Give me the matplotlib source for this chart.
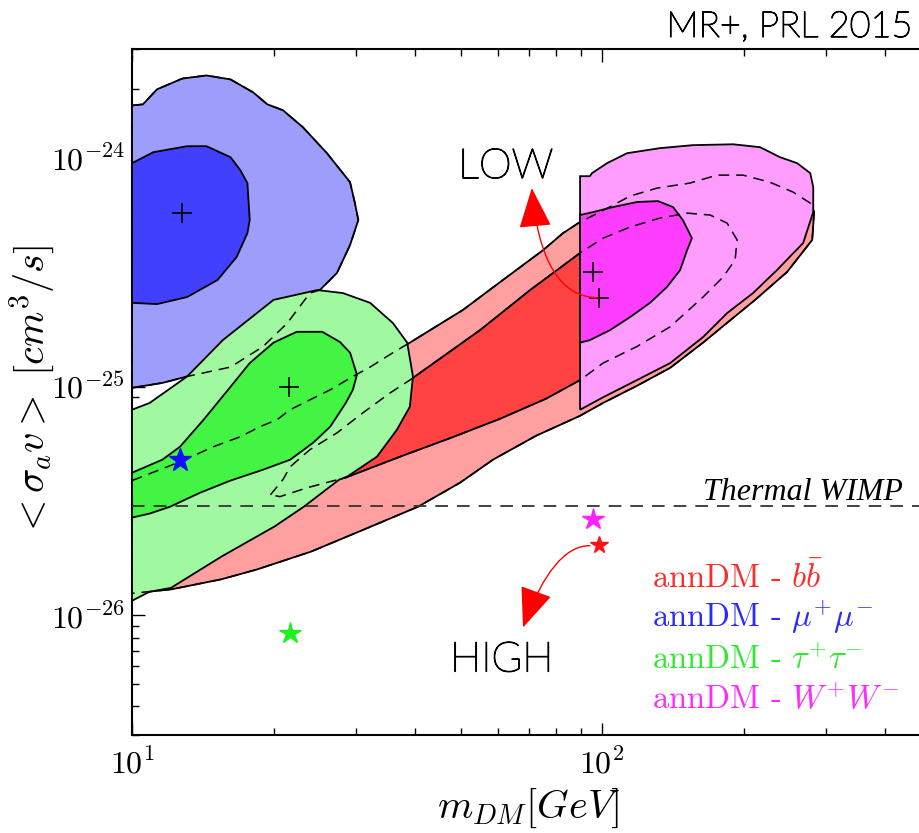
import matplotlib
matplotlib.use("Agg")
import numpy as np
import matplotlib.pyplot as plt
import matplotlib.patheffects as pe
from matplotlib.ticker import FuncFormatter, NullFormatter, FixedLocator, LogLocator

plt.rcParams["mathtext.fontset"] = "cm"

UNIT = 1e-26  # cross sections below are in units of 1e-26 cm^3/s

# contour outlines (mass in GeV, <sigma v> in 1e-26 cm^3/s)
red_outer_m = [10, 12.65, 14.9, 17.0, 18.7, 20.35, 21.7, 23.9, 26.4, 29.5,
               32.1, 35.9, 39.0, 50.6, 61.5, 74.9, 82.6, 89.8, 99.0, 114.8,
               131, 153.8, 175.7, 199.5, 227.6, 254.8, 277.3, 282.6, 280, 247.6,
               211.7, 185.4, 164, 139.6, 118.6, 100.5, 89.8, 72.4, 58.6, 49.9,
               40.6, 31.2, 24.0, 18.45, 15.5, 12.1, 10.4, 10]
red_outer_sv = [3.89, 4.7, 5.47, 6.05, 6.69, 7.18, 7.94, 8.77, 9.7, 11.1,
                12.2, 14.1, 15.6, 21.7, 29.3, 39.6, 47.0, 52.6, 58.1, 68.3,
                74.0, 77.8, 84.3, 84.3, 78.5, 71.1, 63.6, 58.1, 43.9, 31.8,
                24.0, 19.2, 15.6, 12.1, 10.1, 8.5, 7.47, 6.11, 4.8, 3.81,
                2.99, 2.38, 1.90, 1.59, 1.44, 1.30, 1.26, 1.25]

red_inner_m = [19.7, 20.95, 21.7, 23.9, 27.3, 31.0, 35.4, 39.0, 55.0, 70.3,
               89.8, 100.5, 114.8, 132.8, 151.7, 169.8, 184.5, 193.8, 191.9, 180.9,
               164, 139.6, 118.6, 100.5, 89.8, 76.0, 60.7, 48.4, 37.2, 28.5,
               26.4, 23.6, 20.65]
red_inner_sv = [3.37, 3.93, 4.47, 5.31, 6.29, 7.7, 9.4, 10.7, 17.7, 26.5,
                38.5, 44.7, 50.0, 54.7, 57.5, 56.4, 52.0, 43.9, 35.9, 30.2,
                24.7, 18.3, 15.0, 12.7, 10.7, 8.87, 7.25, 6.05, 4.95, 4.01,
                3.85, 3.62, 3.31]

blue_outer_m = [10, 10.55, 11.3, 12.8, 14.4, 16.2, 18.1, 19.4, 20.95, 23.1,
                26.0, 29.1, 29.8, 30.3, 29.1, 27.3, 25.1, 23.9, 21.4, 19.0,
                16.2, 13.1, 11.6, 10]
blue_outer_sv = [170, 172, 200, 223, 230, 221, 194, 172, 162, 136.5,
                 105, 78.5, 63.6, 53.6, 41.7, 31.5, 26.5, 25.7, 19.0, 15.0,
                 12.2, 11.1, 10.4, 9.9]

blue_inner_m = [10, 11.1, 13.1, 14.4, 16.2, 17.0, 17.6, 17.8, 17.6, 16.7,
                15.2, 13.1, 11.3, 10]
blue_inner_sv = [95.1, 106.2, 112.8, 112.8, 101, 88.6, 77.8, 53.6, 47.0, 37.0,
                 29.3, 24.7, 23.0, 23.3]

green_outer_m = [10, 10.9, 13.1, 15.6, 20.0, 24.8, 28.1, 32.1, 35.9, 38.5,
                 39.6, 39.0, 36.6, 33.2, 28.7, 27.6, 23.2, 20.1, 15.5, 12.1,
                 10.9, 10]
green_outer_sv = [7.94, 8.5, 11.1, 16.0, 24.0, 26.5, 25.7, 23.3, 19.0, 15.6,
                  11.1, 8.18, 6.49, 4.95, 4.05, 3.93, 2.99, 2.45, 1.81, 1.32,
                  1.27, 1.16]

green_inner_m = [10, 11.6, 12.65, 14.2, 16.2, 17.8, 20.0, 22.4, 25.4, 27.7,
                 29.1, 30.1, 29.5, 28.5, 26.4, 24.3, 21.7, 19.0, 16.2, 13.95,
                 12.05, 10.9, 10]
green_inner_sv = [4.21, 4.8, 5.47, 7.18, 10, 12.7, 15.6, 17.4, 17.4, 15.7,
                  14.1, 11.3, 9.7, 8.5, 6.69, 5.7, 4.8, 4.34, 3.89, 3.44,
                  2.99, 2.79, 2.68]

mag_outer_m = [89.8, 94.2, 95.2, 102.5, 113, 132.8, 156.2, 190, 216.8, 239.1,
               260, 277.3, 281.4, 281.4, 281.4, 267.9, 235.6, 209.5, 184.5, 164,
               139.6, 118.6, 100.5, 89.8]
mag_outer_sv = [83.4, 83.4, 86, 95.1, 105.1, 110.6, 114, 115, 111.7, 101,
                95.1, 86, 74.7, 61.1, 58.1, 42.6, 32.4, 25.7, 21.0, 16.5,
                12.7, 10.7, 9.0, 7.94]

mag_inner_m = [89.8, 95.7, 105.5, 118.6, 131.5, 141.6, 148.6, 155.3, 151.7, 146.6,
               137.4, 126.5, 114.8, 104, 94.2, 89.8]
mag_inner_sv = [56.4, 58.1, 61.1, 64.3, 64.9, 61.1, 53.6, 44.7, 39.6, 32.4,
                27.3, 23.3, 20.2, 17.7, 16.0, 15.6]

# best fit points (+) and benchmark stars
best_m = [12.8, 21.6, 95.7, 98.5]
best_sv = [57.5, 10, 31.8, 24.5]
star_m = [12.65, 21.7, 95.7, 98.5]
star_sv = [4.8, 0.84, 2.65, 2.04]
star_colors = ["#1010ff", "#22ee22", "#ff22ff", "#ff1111"]
star_sizes = [17, 16, 16, 13]

thermal_sv = 3.0

legend_labels = [r"annDM - $b\bar{b}$", r"annDM - $\mu^{+}\mu^{-}$",
                 r"annDM - $\tau^{+}\tau^{-}$", r"annDM - $W^{+}W^{-}$"]
legend_colors = ["#ff2a2a", "#2a2aff", "#30e830", "#ff2aff"]
legend_sv = [1.325, 0.886, 0.581, 0.389]

x_major = [10, 100]
y_major = [1e-26, 1e-25, 1e-24]

fig = plt.figure(figsize=(9.2, 8.33), dpi=100)
ax = fig.add_axes([0.1435, 0.1176, 0.868, 0.8235])
ax.set_xscale("log")
ax.set_yscale("log")


def region(m, sv, color, z):
    ax.fill(m, [s * UNIT for s in sv], facecolor=color, edgecolor="black",
            lw=1.3, zorder=z)


def hidden_edge(m, sv):
    ax.plot(list(m) + [m[0]], [s * UNIT for s in list(sv) + [sv[0]]],
            color="black", lw=1.1, ls=(0, (7, 4.5)), zorder=9)


region(red_outer_m, red_outer_sv, "#ff9f9f", 1)
region(red_inner_m, red_inner_sv, "#ff4343", 2)
region(blue_outer_m, blue_outer_sv, "#9d9dfb", 3)
region(blue_inner_m, blue_inner_sv, "#4141fd", 4)
region(green_outer_m, green_outer_sv, "#a0f9a0", 5)
region(green_inner_m, green_inner_sv, "#43f443", 6)
region(mag_outer_m, mag_outer_sv, "#ff9dff", 7)
region(mag_inner_m, mag_inner_sv, "#ff3dff", 8)

hidden_edge(red_outer_m, red_outer_sv)
hidden_edge(red_inner_m, red_inner_sv)
hidden_edge(blue_outer_m, blue_outer_sv)

ax.axhline(thermal_sv * UNIT, color="#333333", lw=1.3, ls=(0, (7, 5)), zorder=9)
ax.text(436, 3.21 * UNIT, "Thermal WIMP", family="Liberation Serif",
        style="italic", fontsize=23, ha="right", va="baseline", zorder=12)

ax.plot(best_m, [s * UNIT for s in best_sv], "+", color="black", ms=15,
        mew=1.2, zorder=11)
for m, s, c, sz in zip(star_m, star_sv, star_colors, star_sizes):
    ax.plot(m, s * UNIT, "*", color=c, ms=sz, mec=c, zorder=11)

# LOW / HIGH arrows
ax.annotate("", xy=(70.9, 74.0 * UNIT), xytext=(98.5, 24.5 * UNIT),
            arrowprops=dict(arrowstyle="-|>,head_length=1.6,head_width=0.65",
                            connectionstyle="angle3,angleA=180,angleB=95",
                            color="red", lw=1.0, mutation_scale=16,
                            shrinkA=0, shrinkB=0), zorder=12)
ax.annotate("", xy=(67.9, 0.886 * UNIT), xytext=(94.2, 2.02 * UNIT),
            arrowprops=dict(arrowstyle="-|>,head_length=1.6,head_width=0.65",
                            connectionstyle="angle3,angleA=180,angleB=250",
                            color="red", lw=1.0, mutation_scale=16,
                            shrinkA=0, shrinkB=0), zorder=12)

thin = [pe.withStroke(linewidth=0.9, foreground="black")]
ax.text(49.4, 81.8 * UNIT, "LOW", family="Lato", fontweight="light",
        color="black", fontsize=30, va="baseline", zorder=12, path_effects=thin)
ax.text(47.5, 0.569 * UNIT, "HIGH", family="Lato", fontweight="light",
        color="black", fontsize=30, va="baseline", zorder=12, path_effects=thin)

for lab, c, s in zip(legend_labels, legend_colors, legend_sv):
    ax.text(127.8, s * UNIT, lab, color=c, family="cmr10", fontsize=23.5,
            va="baseline", zorder=12)

ax.set_xlim(10, 500)
ax.set_ylim(3e-27, 3e-24)

fmt = FuncFormatter(lambda v, p: r"$10^{%d}$" % int(round(np.log10(v))))
ax.xaxis.set_major_locator(FixedLocator(x_major))
ax.yaxis.set_major_locator(FixedLocator(y_major))
ax.xaxis.set_minor_locator(LogLocator(base=10, subs=np.arange(2, 10)))
ax.yaxis.set_minor_locator(LogLocator(base=10, subs=np.arange(2, 10)))
ax.xaxis.set_major_formatter(fmt)
ax.yaxis.set_major_formatter(fmt)
ax.xaxis.set_minor_formatter(NullFormatter())
ax.yaxis.set_minor_formatter(NullFormatter())
ax.tick_params(which="both", direction="in", top=True, right=True, width=1.0)
ax.tick_params(which="major", length=9, labelsize=23)
ax.tick_params(which="minor", length=5)
ax.tick_params(axis="x", pad=10)
ax.tick_params(axis="y", pad=5)
for sp in ax.spines.values():
    sp.set_linewidth(1.5)

fig.text(32 / 920, 0.5306, r"$<\sigma_a v>\ [cm^3/s]$", rotation=90,
         fontsize=29, ha="center", va="center")
fig.text(0.575, 0.018, r"$m_{DM}[GeV]$", fontsize=29, ha="center",
         va="baseline")
fig.text(0.992, 0.9556, "MR+, PRL 2015", family="Lato", fontweight="light",
         color="black", fontsize=26, ha="right", va="baseline",
         path_effects=thin)

fig.savefig("out.png", dpi=100)
